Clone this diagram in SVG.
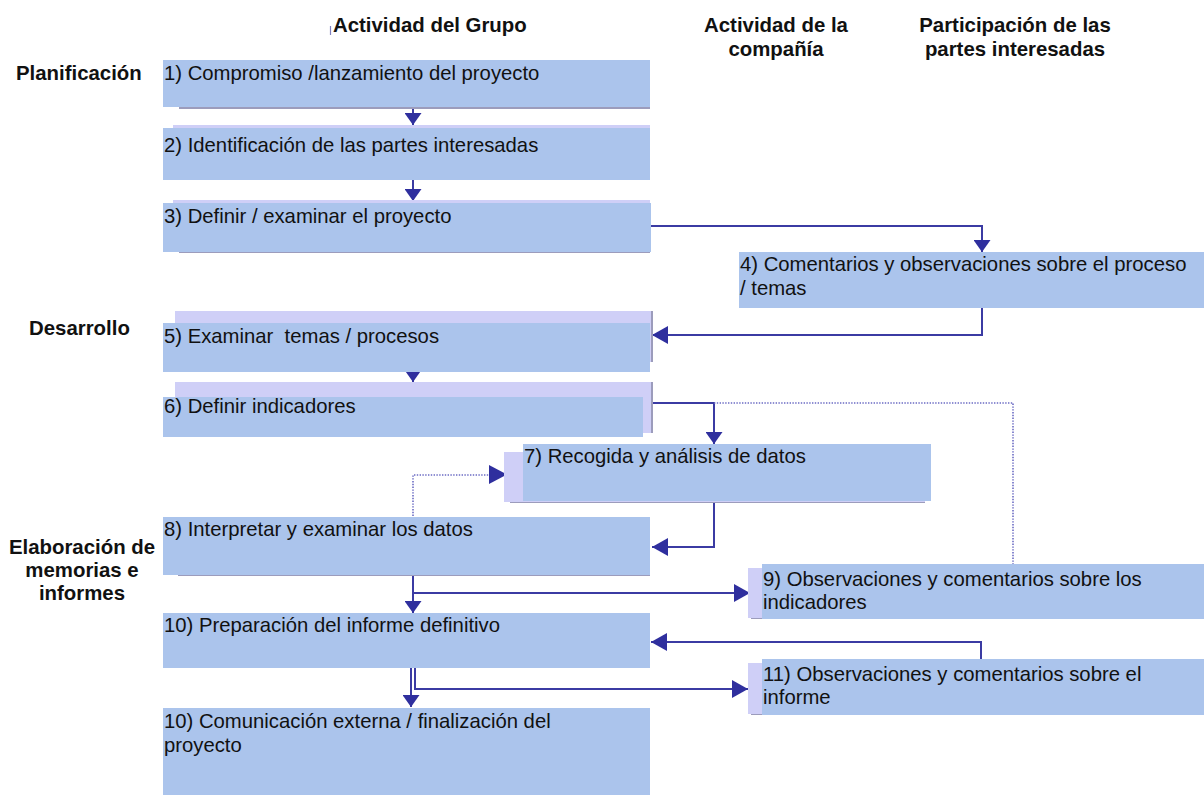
<svg xmlns="http://www.w3.org/2000/svg" width="1204" height="797" viewBox="0 0 1204 797">
<style>
.hdr{font-family:"Liberation Sans",Arial,sans-serif;font-weight:bold;font-size:20.4px;fill:#111}
.txt{font-family:"Liberation Sans",Arial,sans-serif;font-size:20.3px;fill:#111;white-space:pre}
.box{fill:#abc4ec}
.lav{fill:#cfcff7}
.shd{fill:#9c9cbc}
.con{fill:none;stroke:#3b3ba3;stroke-width:2}
.dot{fill:none;stroke:#6b6bc4;stroke-width:1.6;stroke-dasharray:1.4 1.4}
</style>
<defs>
<marker id="arrL" markerUnits="userSpaceOnUse" markerWidth="17" markerHeight="18" refX="16" refY="9" orient="auto" viewBox="0 0 17 18">
<path d="M0,0 L16,9 L0,18 Z" fill="#2f2f9e"/>
</marker>
<marker id="arrS" markerUnits="userSpaceOnUse" markerWidth="13" markerHeight="17" refX="12" refY="8.5" orient="auto" viewBox="0 0 13 17">
<path d="M0,0 L12,8.5 L0,17 Z" fill="#2f2f9e"/>
</marker>
</defs>
<rect width="1204" height="797" fill="#ffffff"/>

<g id="headers">
<line x1="330.5" y1="26" x2="330.5" y2="35" stroke="#8080c0" stroke-width="1.2"/>
<text class="hdr" x="333" y="32">Actividad del Grupo</text>
<text class="hdr" x="776" y="32" text-anchor="middle">Actividad de la</text>
<text class="hdr" x="776" y="56" text-anchor="middle">compañía</text>
<text class="hdr" x="1015" y="32" text-anchor="middle">Participación de las</text>
<text class="hdr" x="1015" y="56" text-anchor="middle">partes interesadas</text>
<text class="hdr" x="16" y="80">Planificación</text>
<text class="hdr" x="29" y="335">Desarrollo</text>
<text class="hdr" x="82" y="554" text-anchor="middle">Elaboración de</text>
<text class="hdr" x="82" y="577" text-anchor="middle">memorias e</text>
<text class="hdr" x="82" y="600" text-anchor="middle">informes</text>
</g>

<g id="connectors">
<path class="con" d="M413,109 V125" marker-end="url(#arrS)"/>
<path class="con" d="M413,180 V201" marker-end="url(#arrS)"/>
<path class="con" d="M651,226 H982 V252" marker-end="url(#arrS)"/>
<path class="con" d="M982,308 V335 H652" marker-end="url(#arrL)"/>
<path class="con" d="M413,372 V382" marker-end="url(#arrS)"/>
<path class="con" d="M653,403 H714 V444" marker-end="url(#arrS)"/>
<path class="dot" d="M714,403 H1013 V564"/>
<path class="dot" d="M413,516 V475 H490"/>
<path d="M489,465 L507,474.5 L489,484 Z" fill="#2f2f9e"/>
<path class="con" d="M714,501 V547 H652" marker-end="url(#arrL)"/>
<path class="con" d="M413,576 V613" marker-end="url(#arrS)"/>
<path class="con" d="M413,593 H750" stroke-width="3" marker-end="url(#arrL)"/>
<path class="con" d="M411,668 V707" marker-end="url(#arrS)"/>
<path class="con" d="M415,668 V689 H748" marker-end="url(#arrL)"/>
<path class="con" d="M981,659 V642 H651" marker-end="url(#arrL)"/>
</g>

<g id="n1">
<rect class="shd" x="179" y="106" width="471" height="3"/>
<rect class="box" x="163" y="60" width="487" height="47"/>
<text class="txt" x="164" y="80">1) Compromiso /lanzamiento del proyecto</text>
</g>
<g id="n2">
<rect class="lav" x="173" y="125" width="477" height="5"/>
<rect class="box" x="163" y="128" width="487" height="52"/>
<text class="txt" x="164" y="152">2) Identificación de las partes interesadas</text>
</g>
<g id="n3">
<rect class="lav" x="173" y="200" width="477" height="5"/>
<rect class="shd" x="179" y="251" width="471" height="2"/>
<rect class="box" x="163" y="203" width="488" height="49"/>
<text class="txt" x="164" y="223">3) Definir / examinar el proyecto</text>
</g>
<g id="n4">
<rect class="box" x="739" y="252" width="465" height="56"/>
<text class="txt" x="740" y="271">4) Comentarios y observaciones sobre el proceso</text>
<text class="txt" x="740" y="295">/ temas</text>
</g>
<g id="n5">
<rect class="shd" x="651" y="311" width="2" height="51"/>
<rect class="lav" x="175" y="311" width="476" height="51"/>
<rect class="box" x="163" y="323" width="487" height="49"/>
<text class="txt" x="164" y="343">5) Examinar  temas / procesos</text>
</g>
<g id="n6">
<rect class="shd" x="651" y="382" width="2" height="51"/>
<rect class="lav" x="175" y="382" width="476" height="51"/>
<rect class="box" x="163" y="397" width="480" height="40"/>
<text class="txt" x="164" y="413">6) Definir indicadores</text>
</g>
<g id="n7">
<rect class="shd" x="510" y="501" width="415" height="2"/>
<rect class="lav" x="504" y="452" width="421" height="50"/>
<rect class="box" x="523" y="444" width="408" height="57"/>
<text class="txt" x="524" y="463">7) Recogida y análisis de datos</text>
</g>
<g id="n8">
<rect class="shd" x="178" y="574" width="472" height="2"/>
<rect class="box" x="163" y="517" width="487" height="58"/>
<text class="txt" x="164" y="536">8) Interpretar y examinar los datos</text>
</g>
<g id="n9">
<rect class="shd" x="751" y="617" width="12" height="2"/>
<rect class="lav" x="748" y="568" width="15" height="50"/>
<rect class="box" x="762" y="564" width="442" height="55"/>
<text class="txt" x="763" y="586">9) Observaciones y comentarios sobre los</text>
<text class="txt" x="763" y="609">indicadores</text>
</g>
<g id="n10">
<rect class="box" x="163" y="613" width="487" height="55"/>
<text class="txt" x="164" y="632">10) Preparación del informe definitivo</text>
</g>
<g id="n11">
<rect class="shd" x="751" y="713" width="12" height="2"/>
<rect class="lav" x="748" y="663" width="15" height="51"/>
<rect class="box" x="762" y="659" width="442" height="56"/>
<text class="txt" x="763" y="681">11) Observaciones y comentarios sobre el</text>
<text class="txt" x="763" y="704">informe</text>
</g>
<g id="n12">
<rect class="box" x="163" y="708" width="487" height="87"/>
<text class="txt" x="164" y="728">10) Comunicación externa / finalización del</text>
<text class="txt" x="164" y="752">proyecto</text>
</g>
</svg>
